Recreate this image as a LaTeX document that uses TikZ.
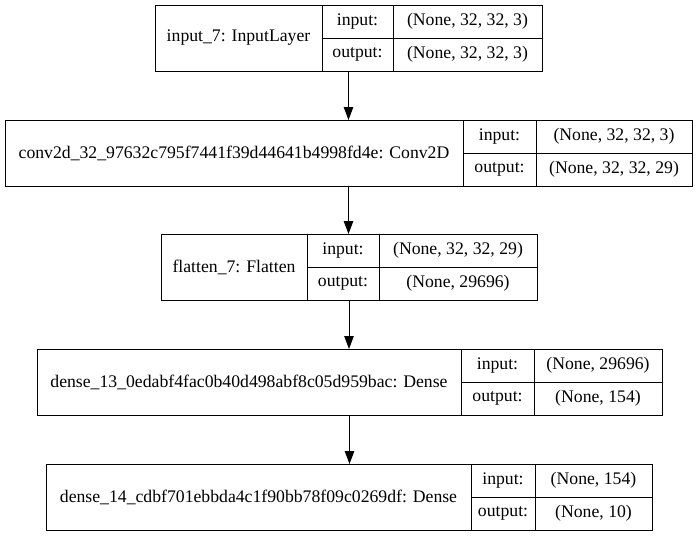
\documentclass[tikz,border=0pt]{standalone}
\usepackage{fontspec}
\setmainfont{Liberation Serif}
\usetikzlibrary{arrows.meta}

% One layer record: name cell | input:/output: keys | shapes
% #1 node name, #2..#5 column edges (left, key, value, right), #6 top,
% #7 layer label, #8 input shape, #9 output shape
\newcommand\layerbox[9]{%
  \pgfmathsetmacro\wname{#3-#2}%
  \pgfmathsetmacro\wkey{#4-#3}%
  \pgfmathsetmacro\wval{#5-#4}%
  \pgfmathsetmacro\wall{#5-#2}%
  \node[frame,minimum width=\wall pt,minimum height=66pt] (#1) at (#2,#6) {};
  \node[cell,minimum width=\wname pt,minimum height=66pt] (#1-name) at (#2,#6) {#7};
  \node[cell,minimum width=\wkey pt,minimum height=33pt] (#1-ki) at (#3,#6) {input:};
  \node[cell,minimum width=\wkey pt,minimum height=33pt] (#1-ko) at (#3,#6+33) {output:};
  \node[cell,minimum width=\wval pt,minimum height=33pt] (#1-vi) at (#4,#6) {#8};
  \node[cell,minimum width=\wval pt,minimum height=33pt] (#1-vo) at (#4,#6+33) {#9};
}

\begin{document}
\begin{tikzpicture}[x=1pt,y=-1pt,
  frame/.style={inner sep=0pt,outer sep=0pt,anchor=north west},
  cell/.style={draw=black,line width=1pt,inner sep=0pt,outer sep=0pt,
    anchor=north west,font=\fontsize{17.7}{20}\selectfont},
  edge/.style={draw=black,line width=1pt,
    -{Triangle[length=13pt,width=9.5pt]}}]
\useasboundingbox (0,0) rectangle (698,536);

\layerbox{b1}{155}{322}{393}{542}{5}{input\_7: InputLayer}{(None, 32, 32, 3)}{(None, 32, 32, 3)}
\layerbox{b2}{5}{463}{536}{692}{120}{conv2d\_32\_97632c795f7441f39d44641b4998fd4e: Conv2D}{(None, 32, 32, 3)}{(None, 32, 32, 29)}
\layerbox{b3}{161}{307}{379}{537}{234}{flatten\_7: Flatten}{(None, 32, 32, 29)}{(None, 29696)}
\layerbox{b4}{37}{461}{534}{662}{349}{dense\_13\_0edabf4fac0b40d498abf8c05d959bac: Dense}{(None, 29696)}{(None, 154)}
\layerbox{b5}{46}{471}{535}{652}{464}{dense\_14\_cdbf701ebbda4c1f90bb78f09c0269df: Dense}{(None, 154)}{(None, 10)}

\draw[edge] (b1.south) -- (b1.south |- b2.north);
\draw[edge] (b2.south) -- (b2.south |- b3.north);
\draw[edge] (b3.south) -- (b3.south |- b4.north);
\draw[edge] (b4.south) -- (b4.south |- b5.north);
\end{tikzpicture}
\end{document}
